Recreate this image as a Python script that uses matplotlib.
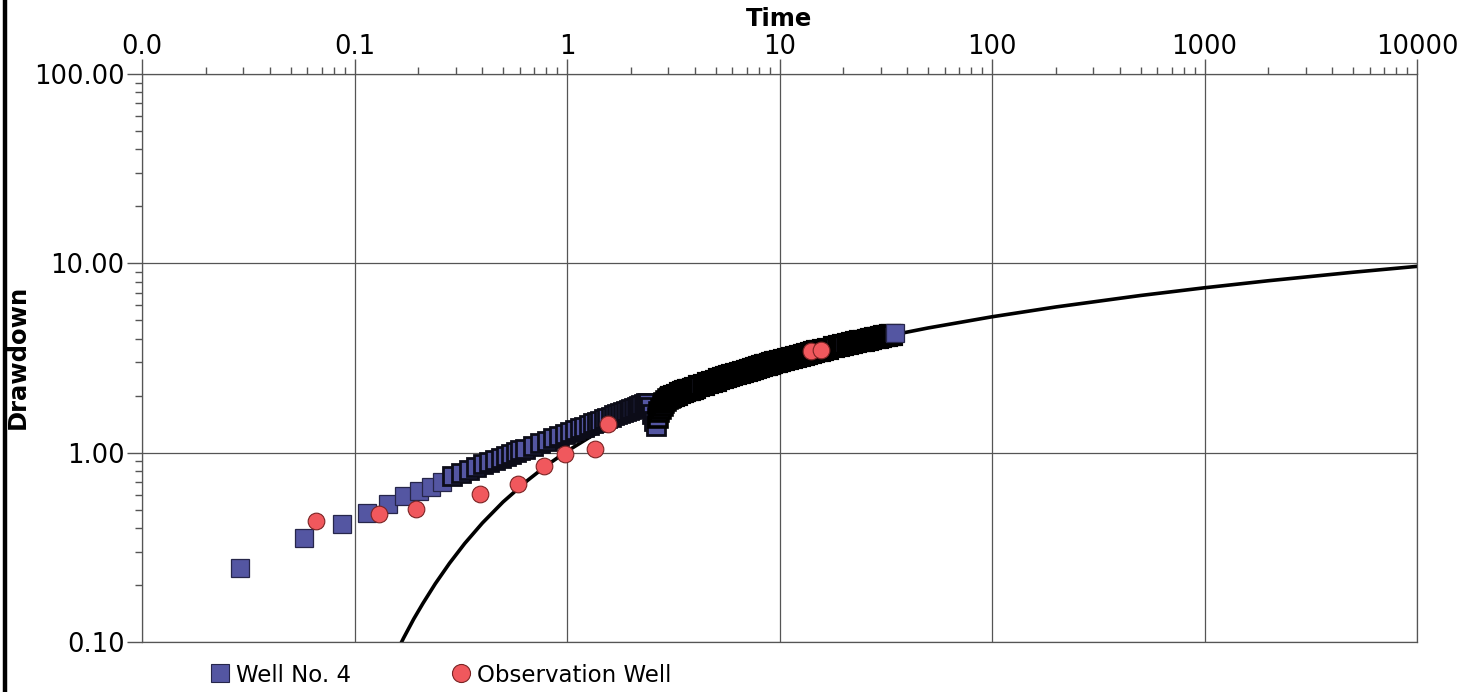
import matplotlib.pyplot as plt
from matplotlib.lines import Line2D
from matplotlib.ticker import FixedLocator, FixedFormatter, LogLocator, NullFormatter

plt.rcParams['font.family'] = 'DejaVu Sans'

# Well No. 4 - first readings, well separated
well_t_early = [0.029, 0.058, 0.087, 0.114, 0.144, 0.171, 0.201, 0.229, 0.257]
well_s_early = [0.247, 0.356, 0.422, 0.482, 0.538, 0.593, 0.630, 0.662, 0.703]

# Well No. 4 - readings up to the step at ~2.5
well_t_mid = [0.287, 0.316, 0.344, 0.373, 0.402, 0.430, 0.459, 0.488, 0.517, 0.545,
              0.574, 0.603, 0.631, 0.689, 0.746, 0.804, 0.861, 0.918, 0.976, 1.033,
              1.091, 1.148, 1.205, 1.263, 1.320, 1.378, 1.435, 1.492, 1.550, 1.607,
              1.665, 1.722, 1.779, 1.837, 1.894, 1.952, 2.009, 2.066, 2.124, 2.181,
              2.239, 2.296, 2.353, 2.411, 2.47, 2.52, 2.57, 2.62]
well_s_mid = [0.752, 0.783, 0.811, 0.839, 0.866, 0.891, 0.916, 0.940, 0.963, 0.984,
              1.006, 1.027, 1.047, 1.086, 1.123, 1.159, 1.193, 1.225, 1.257, 1.287,
              1.317, 1.346, 1.374, 1.401, 1.427, 1.453, 1.478, 1.502, 1.527, 1.550,
              1.573, 1.596, 1.618, 1.640, 1.661, 1.682, 1.702, 1.722, 1.743, 1.762,
              1.782, 1.801, 1.819, 1.838, 1.74, 1.60, 1.47, 1.38]

# Well No. 4 - readings just after the step
well_t_hook = [2.67, 2.72, 2.77, 2.82, 2.87, 2.93, 2.98, 3.04]
well_s_hook = [1.52, 1.63, 1.71, 1.77, 1.82, 1.87, 1.91, 1.94]

# Well No. 4 - dense readings (they merge into a black band)
well_t_late = [3.1, 3.2, 3.3, 3.4, 3.5, 3.6, 3.7, 3.8, 3.9, 4.0,
               4.2, 4.4, 4.6, 4.8, 5.0, 5.2, 5.4, 5.6, 5.8, 6.0,
               6.25, 6.5, 6.75, 7.0, 7.25, 7.5, 7.75, 8.0, 8.25, 8.5, 8.75,
               9.0, 9.25, 9.5, 9.75, 10.0,
               10.5, 11, 11.5, 12, 12.5, 13, 13.5, 14, 14.5, 15, 15.5, 16,
               17, 18, 19, 20, 21, 22, 23, 24, 25, 26, 27, 28, 29, 30,
               31, 32, 33, 34]
well_s_late = [1.972, 2.001, 2.028, 2.055, 2.081, 2.106, 2.130, 2.155, 2.178, 2.201,
               2.245, 2.287, 2.327, 2.366, 2.403, 2.439, 2.474, 2.507, 2.540, 2.571,
               2.608, 2.645, 2.679, 2.713, 2.746, 2.777, 2.808, 2.837, 2.866, 2.894, 2.921,
               2.947, 2.973, 2.998, 3.022, 3.046,
               3.091, 3.135, 3.176, 3.216, 3.255, 3.292, 3.327, 3.362, 3.395, 3.427, 3.457, 3.488,
               3.545, 3.599, 3.650, 3.699, 3.745, 3.789, 3.831, 3.872, 3.910, 3.948, 3.983, 4.018,
               4.051, 4.084, 4.115, 4.145, 4.174, 4.203]

# Well No. 4 - last reading
well_t_last = [34.8]
well_s_last = [4.26]

# Observation Well
obs_t = [0.0657, 0.1298, 0.1945, 0.389, 0.587, 0.776, 0.977, 1.36, 1.56, 14.0, 15.7]
obs_s = [0.438, 0.474, 0.506, 0.605, 0.685, 0.847, 0.988, 1.046, 1.42, 3.45, 3.48]

# fitted type curve
curve_t = [0.15, 0.17, 0.19, 0.21, 0.24, 0.28, 0.33, 0.40, 0.50, 0.65, 0.8, 1.0,
           1.3, 1.7, 2.2, 3, 4, 5.5, 7.5, 10, 15, 20, 30, 50, 100, 200, 500,
           1000, 2000, 5000, 10000]
curve_s = [0.0788, 0.1047, 0.1323, 0.1601, 0.2032, 0.2606, 0.3313, 0.4253, 0.549,
           0.7115, 0.8547, 1.0175, 1.2207, 1.439, 1.657, 1.928, 2.185, 2.475, 2.762,
           3.030, 3.412, 3.684, 4.069, 4.556, 5.220, 5.884, 6.763, 7.428, 8.093,
           8.973, 9.638]

xticks = [0.01, 0.1, 1, 10, 100, 1000, 10000]
xlabels = ['0.0', '0.1', '1', '10', '100', '1000', '10000']
yticks = [0.1, 1, 10, 100]
ylabels = ['0.10', '1.00', '10.00', '100.00']

blue = '#5456a2'
red = '#f0585d'
gridc = '#555555'
ms = 13

fig = plt.figure(figsize=(14.75, 6.92), dpi=100)
ax = fig.add_axes([142/1475, 1 - 642/692, 1275/1475, 568/692])
ax.set_xscale('log')
ax.set_yscale('log')
ax.set_xlim(0.01, 10000)
ax.set_ylim(0.1, 100)

ax.plot(curve_t, curve_s, color='black', lw=2.6, zorder=2)
ax.plot(well_t_early, well_s_early, ls='none', marker='s', ms=ms,
        mfc=blue, mec='#26264a', mew=0.9, zorder=3)
ax.plot(well_t_mid, well_s_mid, ls='none', marker='s', ms=ms,
        mfc=blue, mec='#0c0c18', mew=2.0, zorder=3)
ax.plot(well_t_hook, well_s_hook, ls='none', marker='s', ms=ms,
        mfc=blue, mec='black', mew=2.6, zorder=3)
ax.plot(well_t_late, well_s_late, ls='none', marker='s', ms=ms,
        mfc='#111118', mec='black', mew=3.0, zorder=3)
ax.plot(well_t_last, well_s_last, ls='none', marker='s', ms=ms,
        mfc=blue, mec='#26264a', mew=0.9, zorder=3)
ax.plot(obs_t, obs_s, ls='none', marker='o', ms=12,
        mfc=red, mec='#7a2424', mew=0.8, zorder=4)

# axes, ticks, grid
ax.xaxis.tick_top()
ax.xaxis.set_major_locator(FixedLocator(xticks))
ax.xaxis.set_major_formatter(FixedFormatter(xlabels))
ax.xaxis.set_minor_locator(LogLocator(base=10, subs=range(2, 10), numticks=20))
ax.xaxis.set_minor_formatter(NullFormatter())
ax.yaxis.set_major_locator(FixedLocator(yticks))
ax.yaxis.set_major_formatter(FixedFormatter(ylabels))
ax.yaxis.set_minor_locator(LogLocator(base=10, subs=range(2, 10), numticks=20))
ax.yaxis.set_minor_formatter(NullFormatter())

ax.tick_params(which='major', direction='out', length=11, width=1, color=gridc,
               labelsize=18.5, top=True, bottom=False, left=True, right=False)
ax.tick_params(which='minor', direction='out', length=5, width=1, color=gridc,
               top=True, bottom=False, left=True, right=False)
ax.tick_params(axis='x', which='major', pad=-1)
ax.tick_params(axis='y', which='major', pad=1.5)
ax.grid(True, which='major', color=gridc, lw=0.9)
for sp in ax.spines.values():
    sp.set_color(gridc)
    sp.set_linewidth(0.9)

fig.text(779/1475, 1 - 19/692, 'Time', ha='center', va='center',
         fontsize=17.5, fontweight='bold')
fig.text(18/1475, 1 - 357/692, 'Drawdown', rotation=90, ha='center', va='center',
         fontsize=17.5, fontweight='bold')

handles = [Line2D([], [], ls='none', marker='s', ms=13, mfc=blue, mec='#26264a', mew=0.8),
           Line2D([], [], ls='none', marker='o', ms=13, mfc=red, mec='#7a2424', mew=0.8)]
fig.legend(handles, ['Well No. 4', 'Observation Well'], loc='center left',
           bbox_to_anchor=(211/1475, 1 - 675/692), ncol=2, frameon=False,
           fontsize=16.5, handlelength=0.8, handletextpad=0.3, columnspacing=4.4,
           borderpad=0, borderaxespad=0)

# scanned page edge on the left
fig.add_artist(Line2D([0.0034, 0.0034], [0, 1], transform=fig.transFigure,
                      color='black', lw=3.2))

fig.savefig('out.png', dpi=100)
